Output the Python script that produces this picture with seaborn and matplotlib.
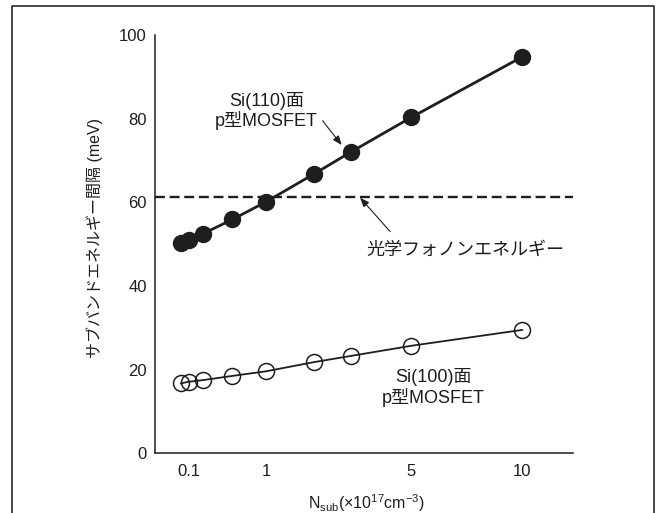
import numpy as np
import pandas as pd
import matplotlib
matplotlib.use("Agg")
import matplotlib.pyplot as plt
import seaborn as sns
from matplotlib.lines import Line2D

# ---- data ----
nsub = [0.06, 0.1, 0.2, 0.5, 1, 2, 3, 5, 10]
si110 = [50.2, 51.0, 52.5, 55.9, 60.1, 66.8, 72.1, 80.3, 94.8]
si100 = [16.7, 17.1, 17.5, 18.5, 19.6, 21.8, 23.3, 25.7, 29.5]
phonon_energy = 61.2
xticks = [0.1, 1, 5, 10]
xtick_labels = ["0.1", "1", "5", "10"]
yticks = [0, 20, 40, 60, 80, 100]

sns.set_theme(style="white")
plt.rcParams["font.family"] = ["Liberation Sans", "Noto Sans CJK JP", "DejaVu Sans"]
plt.rcParams["mathtext.fontset"] = "custom"
plt.rcParams["mathtext.rm"] = "Liberation Sans"

ink = "#1e1e1e"

df = pd.DataFrame({"nsub": nsub + nsub,
                   "E": si110 + si100,
                   "surf": ["110"] * len(nsub) + ["100"] * len(nsub)})

fig = plt.figure(figsize=(6.6, 5.13), dpi=100)
ax = fig.add_axes([155 / 660, 1 - 453.3 / 513, 417.7 / 660, 418.3 / 513])

sns.lineplot(data=df[df.surf == "110"], x="nsub", y="E", ax=ax, color=ink,
             lw=2.0, marker="o", markersize=11.5, markerfacecolor=ink,
             markeredgecolor=ink, markeredgewidth=1.0, sort=True, legend=False,
             zorder=3)
sns.lineplot(data=df[df.surf == "100"], x="nsub", y="E", ax=ax, color=ink,
             lw=1.3, marker="o", markersize=11.5, markerfacecolor="none",
             markeredgecolor=ink, markeredgewidth=1.1, sort=True, legend=False,
             zorder=3)

ax.axhline(phonon_energy, color=ink, lw=1.7, ls=(0, (4.2, 2.0)), zorder=2)

p = 0.52
ax.set_xscale("function", functions=(lambda x: np.sign(x) * np.abs(x) ** p,
                                     lambda y: np.sign(y) * np.abs(y) ** (1 / p)))
ax.set_xlim(0, 12.8)
ax.set_ylim(0, 100)
ax.set_xticks(xticks)
ax.set_xticklabels(xtick_labels)
ax.set_yticks(yticks)
ax.minorticks_off()

for s in ["top", "right"]:
    ax.spines[s].set_visible(False)
for s in ["left", "bottom"]:
    ax.spines[s].set_color(ink)
    ax.spines[s].set_linewidth(1.1)
ax.tick_params(direction="in", length=6.5, width=0.9, color=ink,
               labelsize=12, labelcolor=ink)
ax.tick_params(axis="y", pad=6)
ax.tick_params(axis="x", pad=8)

ax.set_ylabel("サブバンドエネルギー間隔 (meV)", fontsize=11.5, color=ink, va="center")
ax.yaxis.set_label_coords(-0.1436, 0.515)
ax.set_xlabel(r"N$_{\rm sub}$(×10$^{17}$cm$^{-3}$)", fontsize=11.5, color=ink, va="center")
ax.xaxis.set_label_coords(0.507, -0.1195)

tfs = 13
ax.text(0.267, 0.818, "Si(110)面\np型MOSFET", transform=ax.transAxes,
        ha="center", va="center", fontsize=tfs, color=ink, linespacing=1.1)
ax.text(0.742, 0.486, "光学フォノンエネルギー", transform=ax.transAxes,
        ha="center", va="center", fontsize=tfs, color=ink)
ax.text(0.666, 0.157, "Si(100)面\np型MOSFET", transform=ax.transAxes,
        ha="center", va="center", fontsize=tfs, color=ink, linespacing=1.1)

arrow = dict(arrowstyle="-|>,head_length=0.5,head_width=0.2", lw=0.8, color=ink,
             mutation_scale=11, shrinkA=0, shrinkB=0)
ax.annotate("", xy=(2.72, 73.7), xytext=(2.21, 79.5), arrowprops=arrow)
ax.annotate("", xy=(3.26, 61.1), xytext=(4.24, 53.0), arrowprops=arrow)

# outer frame (open at the bottom)
fx0, fx1, fy1 = 12.3 / 660, 654.3 / 660, 1 - 6.3 / 513
fig.add_artist(Line2D([fx0, fx0, fx1, fx1], [0, fy1, fy1, 0],
                      transform=fig.transFigure, color="#2a2a2a", lw=1.2))

fig.savefig("out.png", dpi=100)
